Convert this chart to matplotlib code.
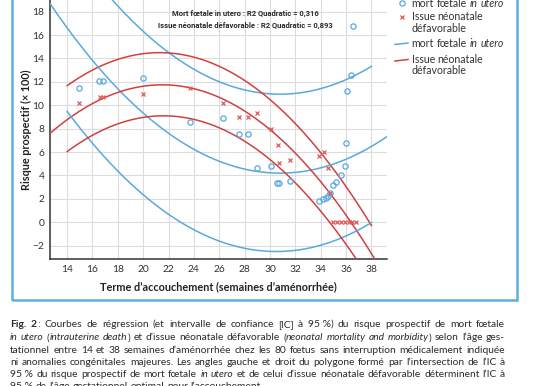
import matplotlib
matplotlib.use("Agg")
import matplotlib.pyplot as plt
import numpy as np
from matplotlib.lines import Line2D
from matplotlib.patches import Rectangle

# scatter values (risque prospectif x 100) per gestational week
mfiu_weeks = [14.9, 16.55, 16.8, 20.0, 23.7, 26.3, 27.56, 28.27, 29.0, 30.06, 30.55, 30.7,
              31.6, 33.9, 34.2, 34.45, 34.6, 34.75, 35.0, 35.2, 35.6, 35.9, 35.98, 36.08,
              36.4, 36.55]
mfiu_risk = [11.45, 12.05, 12.05, 12.35, 8.6, 8.9, 7.55, 7.55, 4.67, 4.8, 3.33, 3.33,
             3.5, 1.85, 1.95, 2.05, 2.25, 2.5, 3.19, 3.47, 4.05, 4.8, 6.75, 11.2,
             12.6, 16.78]
issue_weeks = [14.9, 16.6, 16.8, 20.0, 23.7, 26.3, 27.56, 28.27, 29.0, 30.06, 30.6, 30.7,
               31.6, 33.9, 34.27, 34.6, 34.7, 35.0, 35.3, 35.6, 35.9, 36.2, 36.5, 36.8]
issue_risk = [10.2, 10.75, 10.75, 11.0, 11.45, 10.2, 8.97, 9.03, 9.3, 7.95, 6.6, 5.1,
              5.3, 5.67, 6.03, 4.6, 2.5, 0, 0, 0, 0, 0, 0, 0]

# quadratic curves (vertex form a*(x-h)^2 + k): upper CI, fit, lower CI
mfiu_a = [0.046, 0.044, 0.044]
mfiu_h = [30.8, 30.8, 30.5]
mfiu_k = [10.95, 4.2, -2.5]
issue_a = [-0.053, -0.053, -0.053]
issue_h = [21.3, 21.5, 21.6]
issue_k = [14.5, 11.75, 9.1]
ci_range = [14, 38]

xticks = list(range(14, 39, 2))
yticks = list(range(-2, 19, 2))

BLUE = "#5aa9dc"
RED = "#d2403f"
REDMK = "#e05a5a"
TXT = "#333333"
FONT = ["Lato", "DejaVu Sans"]
NARROW = ["Liberation Sans Narrow", "Roboto", "DejaVu Sans"]

plt.rcParams["font.family"] = FONT

fig = plt.figure(figsize=(5.36, 3.86), dpi=100)
W, H = 536.0, 386.0


def fx(px):
    return px / W


def fy(py):
    return 1 - py / H


# blue frame around the figure (top edge is outside the picture)
fig.patches.append(Rectangle((fx(12), fy(300)), fx(516.7) - fx(12), 1.0,
                             transform=fig.transFigure, fill=False,
                             edgecolor="#5aaee3", linewidth=1.8, clip_on=False))

ax = fig.add_axes([fx(50), fy(259), fx(387.3) - fx(50), fy(0) - fy(259)])
ax.set_xlim(12.65, 39.25)
ax.set_ylim(-3.14, 19.0)

xs_full = np.linspace(12.65, 39.25, 300)
xs_ci = np.linspace(ci_range[0], ci_range[1], 300)
for i in range(3):
    xx = xs_full if i == 1 else xs_ci
    ax.plot(xx, mfiu_a[i] * (xx - mfiu_h[i]) ** 2 + mfiu_k[i], color=BLUE, lw=1.1, zorder=3)
    ax.plot(xx, issue_a[i] * (xx - issue_h[i]) ** 2 + issue_k[i], color=RED, lw=1.1, zorder=3)

ax.plot(mfiu_weeks, mfiu_risk, "o", mfc="none", mec=BLUE, ms=3.8, mew=0.9, zorder=4)
ax.plot(issue_weeks, issue_risk, "x", color=REDMK, ms=3.4, mew=0.9, zorder=5)

ax.set_xticks(xticks)
ax.set_yticks(yticks)
ax.grid(True, color="#dcdcdc", lw=0.8)
ax.set_axisbelow(True)
ax.tick_params(length=0, labelsize=7.4, labelcolor=TXT, pad=4)
for s in ["top", "right"]:
    ax.spines[s].set_visible(False)
for s in ["left", "bottom"]:
    ax.spines[s].set_color("#333333")
    ax.spines[s].set_linewidth(1.1)

ax.set_xlabel("Terme d\u2019accouchement (semaines d\u2019aménorrhée)", fontsize=7.8,
              fontweight="bold", color="#222222")
ax.xaxis.set_label_coords(0.5, -0.085)
ax.set_ylabel("Risque prospectif (\u00d7 100)", fontsize=7.8, fontweight="bold", color="#222222")
ax.yaxis.set_label_coords(-0.052, 0.5)

# R2 annotations
fig.text(fx(245), fy(13.3), "Mort fœtale in utero : R2 Quadratic = 0,316", ha="center",
         va="center", fontsize=5.5, family=NARROW, color="#2a2a2a", fontweight="bold")
fig.text(fx(245), fy(25.7), "Issue néonatale défavorable : R2 Quadratic = 0,893", ha="center",
         va="center", fontsize=5.5, family=NARROW, color="#2a2a2a", fontweight="bold")

renderer = fig.canvas.get_renderer()


def tokenize(line):
    # words separated by spaces; *...* marks italic, **...** bold; a word may mix styles
    words = []
    style = "n"
    for raw in line.split(" "):
        runs = []
        buf = ""
        i = 0
        while i < len(raw):
            if raw.startswith("**", i):
                if buf:
                    runs.append((buf, style))
                buf = ""
                style = "n" if style == "b" else "b"
                i += 2
            elif raw[i] == "*":
                if buf:
                    runs.append((buf, style))
                buf = ""
                style = "n" if style == "i" else "i"
                i += 1
            else:
                buf += raw[i]
                i += 1
        if buf:
            runs.append((buf, style))
        if runs:
            words.append(runs)
    return words


def place_runs(words, x0, yb, size, width=None, color=TXT):
    # draws the words on one baseline, optionally justified to a given width (px)
    placed = []
    for runs in words:
        items = []
        for txt, st in runs:
            t = fig.text(0, fy(yb), txt, fontsize=size, va="baseline", ha="left", color=color,
                         fontstyle="italic" if st == "i" else "normal",
                         fontweight="bold" if st == "b" else "normal")
            items.append((t, t.get_window_extent(renderer).width))
        placed.append(items)
    probe1 = fig.text(0, 0, "x x", fontsize=size)
    probe2 = fig.text(0, 0, "xx", fontsize=size)
    space = probe1.get_window_extent(renderer).width - probe2.get_window_extent(renderer).width
    probe1.remove()
    probe2.remove()
    wsum = [sum(w for _, w in items) for items in placed]
    if width is not None and len(placed) > 1:
        space = (width - sum(wsum)) / (len(placed) - 1)
    x = x0
    for items, ww in zip(placed, wsum):
        xi = x
        for t, w in items:
            t.set_x(fx(xi))
            xi += w
        x += ww + space


# legend
fig.add_artist(Line2D([fx(401.7)], [fy(3.3)], marker="o", mfc="none", mec=BLUE, ms=3.8,
                      mew=0.9, transform=fig.transFigure))
fig.add_artist(Line2D([fx(401.7)], [fy(16.7)], marker="x", color=REDMK, ms=3.4, mew=0.9,
                      transform=fig.transFigure))
fig.add_artist(Line2D([fx(395), fx(408)], [fy(44.5), fy(43)], color=BLUE, lw=1.1,
                      transform=fig.transFigure))
fig.add_artist(Line2D([fx(395), fx(408)], [fy(61), fy(59.5)], color=RED, lw=1.1,
                      transform=fig.transFigure))
LEG = 7.6
place_runs(tokenize("mort fœtale *in utero*"), 411.7, 6.8, LEG)
place_runs(tokenize("Issue néonatale"), 411.7, 20.2, LEG)
place_runs(tokenize("défavorable"), 411.7, 32.0, LEG)
place_runs(tokenize("mort fœtale *in utero*"), 411.7, 46.8, LEG)
place_runs(tokenize("Issue néonatale"), 411.7, 62.8, LEG)
place_runs(tokenize("défavorable"), 411.7, 73.8, LEG)

# caption (justified)
caption = [
    "**Fig. 2**\u2009: Courbes de régression (et intervalle de confiance [IC] à 95\u00a0%) du risque prospectif de mort fœtale",
    "*in utero* (*intrauterine death*) et d\u2019issue néonatale défavorable (*neonatal mortality and morbidity*) selon l\u2019âge ges-",
    "tationnel entre 14 et 38 semaines d\u2019aménorrhée chez les 80 fœtus sans interruption médicalement indiquée",
    "ni anomalies congénitales majeures. Les angles gauche et droit du polygone formé par l\u2019intersection de l\u2019IC à",
    "95\u00a0% du risque prospectif de mort fœtale *in utero* et de celui d\u2019issue néonatale défavorable déterminent l\u2019IC à",
    "95\u00a0% de l\u2019âge gestationnel optimal pour l\u2019accouchement.",
]
CAP = 7.35
baselines = [327, 340.3, 352.6, 364.8, 377.1, 389.4]
for i, line in enumerate(caption):
    place_runs(tokenize(line), 10, baselines[i], CAP, width=None if i == 5 else 495, color="#2b2b2b")

fig.savefig("out.png", dpi=100)
